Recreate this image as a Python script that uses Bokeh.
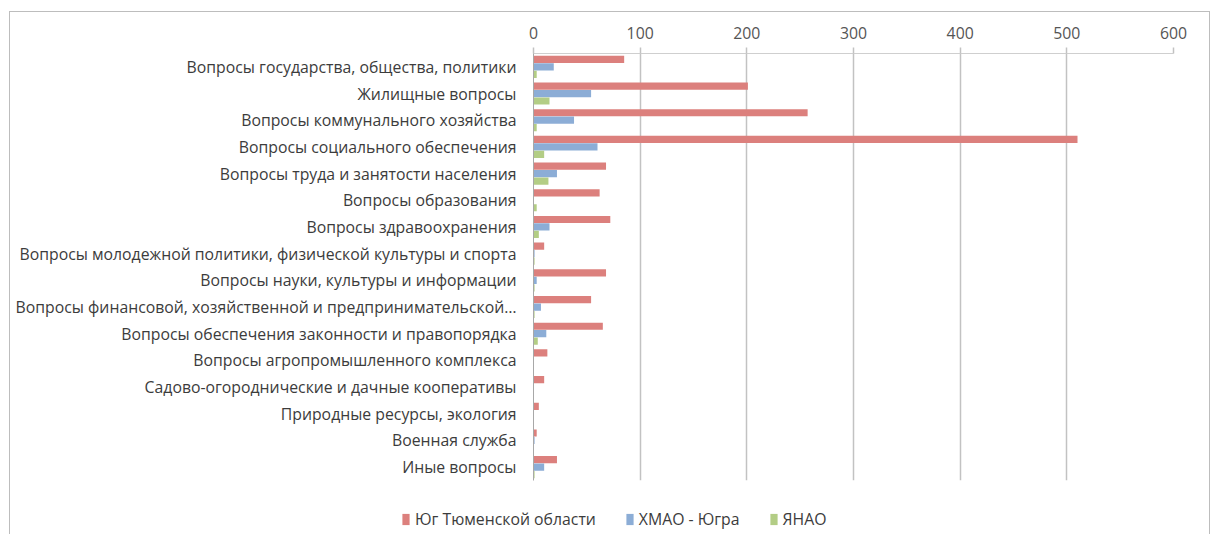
from bokeh.plotting import figure
from bokeh.models import (ColumnDataSource, FactorRange, Range1d, Legend, LegendItem,
                          FixedTicker, InlineStyleSheet)
from bokeh.layouts import column
from bokeh.transform import dodge
from bokeh.embed import file_html
from bokeh.resources import INLINE

categories = [
    "Вопросы государства, общества, политики",
    "Жилищные вопросы",
    "Вопросы коммунального хозяйства",
    "Вопросы социального обеспечения",
    "Вопросы труда и занятости населения",
    "Вопросы образования",
    "Вопросы здравоохранения",
    "Вопросы молодежной политики, физической культуры и спорта",
    "Вопросы науки, культуры и информации",
    "Вопросы финансовой, хозяйственной и предпринимательской…",
    "Вопросы обеспечения законности и правопорядка",
    "Вопросы агропромышленного комплекса",
    "Садово-огороднические и дачные кооперативы",
    "Природные ресурсы, экология",
    "Военная служба",
    "Иные вопросы",
]
yug = [85, 201, 257, 510, 68, 62, 72, 10, 68, 54, 65, 13, 10, 5, 3, 22]
hmao = [19, 54, 38, 60, 22, 0, 15, 1, 3, 7, 12, 0, 0, 0, 1, 10]
yanao = [3, 15, 3, 10, 14, 3, 5, 1, 1, 1, 4, 0, 0, 0, 0, 1]
series_names = ["Юг Тюменской области", "ХМАО - Югра", "ЯНАО"]
x_ticks = [0, 100, 200, 300, 400, 500, 600]

colors = ["#DC807D", "#8CADD6", "#B3CD85"]
FONT = "Open Sans"
FS = "15.8px"

src = ColumnDataSource(dict(cat=categories, yug=yug, hmao=hmao, yanao=yanao))

p = figure(
    width=1212, height=500,
    y_range=FactorRange(*list(reversed(categories)), range_padding=0),
    x_range=Range1d(0, 600),
    x_axis_location="above",
    output_backend="svg", toolbar_location=None,
    min_border_left=533, min_border_right=39, min_border_top=53, min_border_bottom=20,
)

bh = 0.27
r1 = p.hbar(y=dodge("cat", 0.28, range=p.y_range), right="yug", left=0, height=bh, source=src,
            fill_color=colors[0], line_color=None)
r2 = p.hbar(y=dodge("cat", 0.0, range=p.y_range), right="hmao", left=0, height=bh, source=src,
            fill_color=colors[1], line_color=None)
r3 = p.hbar(y=dodge("cat", -0.28, range=p.y_range), right="yanao", left=0, height=bh, source=src,
            fill_color=colors[2], line_color=None)

p.outline_line_color = None
p.ygrid.grid_line_color = None
p.xgrid.grid_line_color = "#C2C2C2"
p.xgrid.grid_line_width = 1.5
p.xaxis.ticker = FixedTicker(ticks=x_ticks)
p.xaxis.axis_line_color = "#CFCFCF"
p.xaxis.major_tick_line_color = "#C2C2C2"
p.xaxis.major_tick_line_width = 1.5
p.xaxis.major_tick_out = 6
p.xaxis.major_tick_in = 0
p.xaxis.minor_tick_line_color = None
p.xaxis.major_label_text_font = FONT
p.xaxis.major_label_text_font_size = FS
p.xaxis.major_label_text_color = "#555555"
p.xaxis.major_label_standoff = 9

p.yaxis.axis_line_color = "#A8A8A8"
p.yaxis.major_tick_line_color = None
p.yaxis.minor_tick_line_color = None
p.yaxis.major_label_text_font = FONT
p.yaxis.major_label_text_font_size = FS
p.yaxis.major_label_text_color = "#3C3C3C"
p.yaxis.major_label_standoff = 11

# legend strip below the chart (proxy glyphs have zero height and lie outside its x range)
lg = figure(width=1212, height=34, x_range=Range1d(-2, -1),
            y_range=FactorRange(*categories),
            x_axis_location=None, y_axis_location=None,
            output_backend="svg", toolbar_location=None,
            min_border_left=0, min_border_right=0, min_border_top=0, min_border_bottom=0)
lg.grid.visible = False
lg.outline_line_color = None
g1 = lg.hbar(y="cat", right="yug", left=0, height=0, source=src, fill_color=colors[0], line_color=None)
g2 = lg.hbar(y="cat", right="hmao", left=0, height=0, source=src, fill_color=colors[1], line_color=None)
g3 = lg.hbar(y="cat", right="yanao", left=0, height=0, source=src, fill_color=colors[2], line_color=None)
legend = Legend(
    items=[LegendItem(label=series_names[0], renderers=[g1]),
           LegendItem(label=series_names[1], renderers=[g2]),
           LegendItem(label=series_names[2], renderers=[g3])],
    orientation="horizontal", location=(168, 4),
    label_text_font=FONT, label_text_font_size=FS, label_text_color="#3C3C3C",
    glyph_width=9, glyph_height=14, spacing=29, label_standoff=5,
    border_line_color=None, background_fill_alpha=0, margin=0, padding=4,
)
lg.add_layout(legend, "center")
lg.stylesheets = [InlineStyleSheet(css=":host { transform: translateX(-300px); }")]

layout = column(p, lg, spacing=0)
layout.stylesheets = [InlineStyleSheet(css=""":host { position: relative; }
:host::after { content: ""; position: absolute; left: 9px; top: 11px; right: 2px; bottom: -20px;
  border: 1px solid #BDBDBD; pointer-events: none; }""")]

open("out.html", "w").write(file_html(layout, INLINE))
